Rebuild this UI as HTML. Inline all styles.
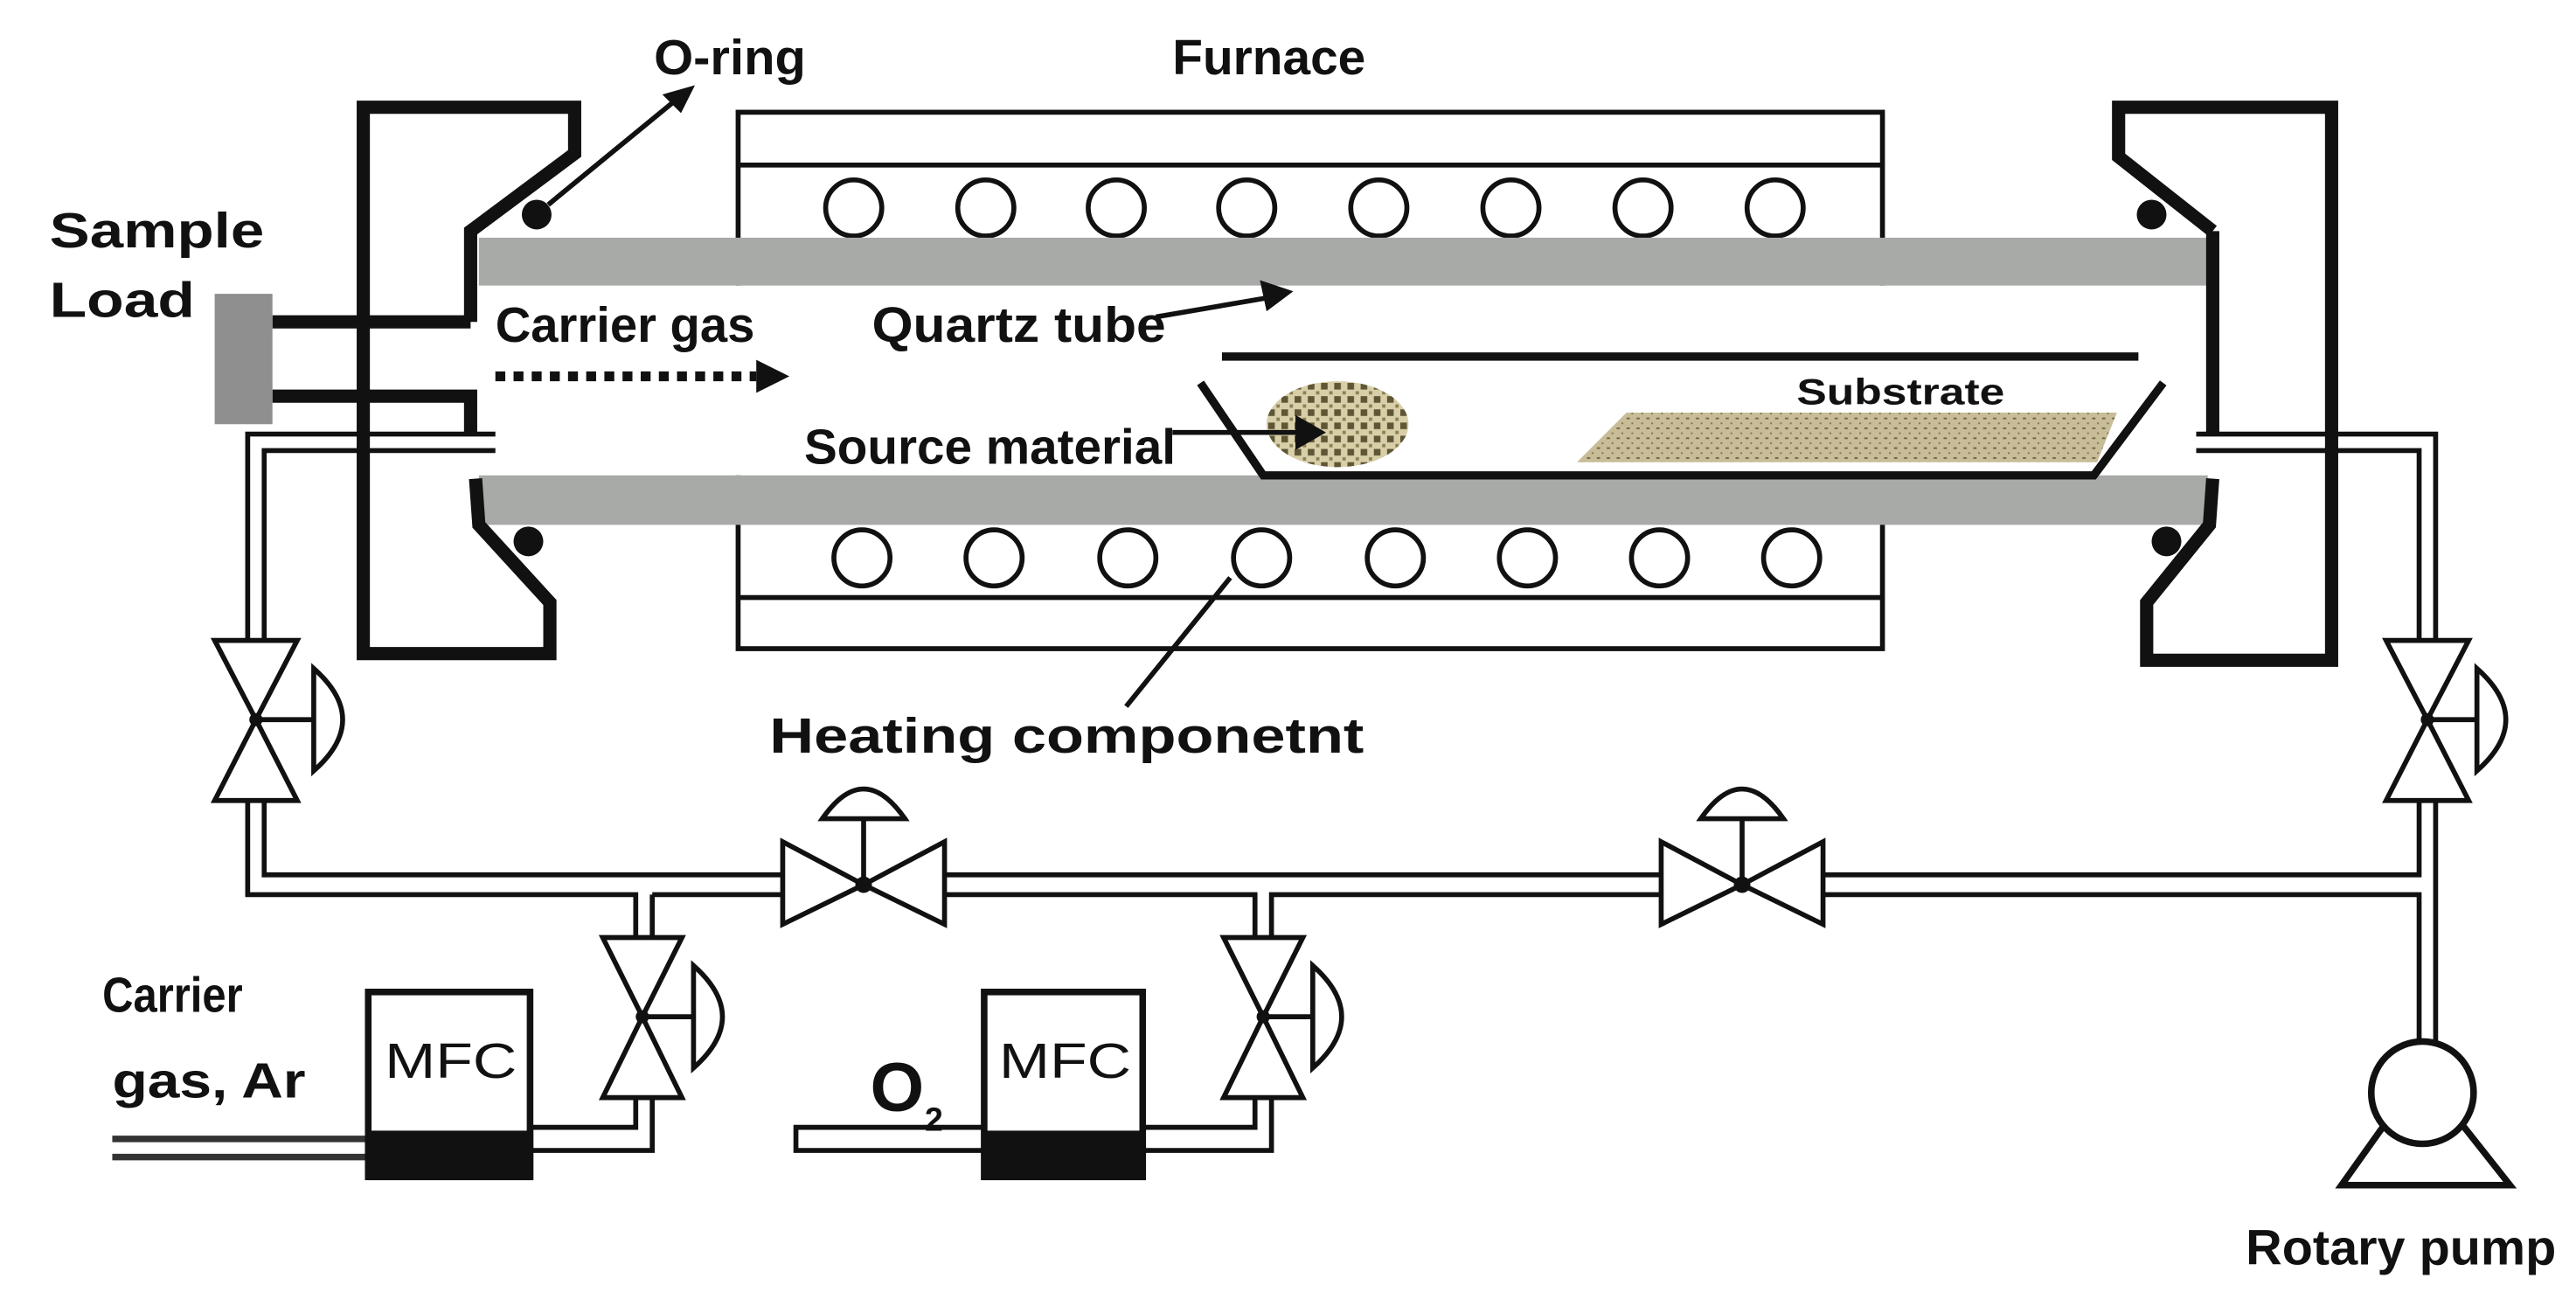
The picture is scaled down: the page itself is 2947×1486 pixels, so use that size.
<!DOCTYPE html>
<html><head><meta charset="utf-8"><style>html,body{margin:0;padding:0;background:#fff}svg{display:block}</style></head><body>
<svg width="2947" height="1486" viewBox="0 0 1560 787" preserveAspectRatio="none" xmlns="http://www.w3.org/2000/svg" font-family="Liberation Sans, sans-serif">
<rect width="1560" height="787" fill="#fff"/>
<defs>
<pattern id="sp" width="6" height="6" patternUnits="userSpaceOnUse"><rect width="6" height="6" fill="#c9bd98"/><rect x="1" y="1" width="2" height="1" fill="#6b6448"/><rect x="4" y="4" width="1" height="1" fill="#7a7050"/></pattern>
<pattern id="src" width="8" height="8" patternUnits="userSpaceOnUse"><rect width="8" height="8" fill="#d8cfa8"/><rect x="0" y="0" width="4" height="4" fill="#5e5634"/><rect x="5" y="5" width="2" height="2" fill="#8a7f56"/></pattern>
</defs>
<g stroke="#111" stroke-width="3" fill="none">
<rect x="447" y="68" width="693" height="325"/>
<line x1="447" y1="100" x2="1140" y2="100"/>
<line x1="447" y1="362" x2="1140" y2="362"/>
</g>
<g stroke="#111" stroke-width="3" fill="#fff">
<ellipse cx="517" cy="126" rx="17" ry="17"/><ellipse cx="597" cy="126" rx="17" ry="17"/><ellipse cx="676" cy="126" rx="17" ry="17"/><ellipse cx="755" cy="126" rx="17" ry="17"/><ellipse cx="835" cy="126" rx="17" ry="17"/><ellipse cx="915" cy="126" rx="17" ry="17"/><ellipse cx="995" cy="126" rx="17" ry="17"/><ellipse cx="1075" cy="126" rx="17" ry="17"/>
<ellipse cx="522" cy="338" rx="17" ry="17"/><ellipse cx="602" cy="338" rx="17" ry="17"/><ellipse cx="683" cy="338" rx="17" ry="17"/><ellipse cx="764" cy="338" rx="17" ry="17"/><ellipse cx="845" cy="338" rx="17" ry="17"/><ellipse cx="925" cy="338" rx="17" ry="17"/><ellipse cx="1005" cy="338" rx="17" ry="17"/><ellipse cx="1085" cy="338" rx="17" ry="17"/>
</g>
<rect x="290" y="173" width="1050" height="115" fill="#fff"/>
<rect x="290" y="144" width="1047" height="29" fill="#a8aaa8"/>
<rect x="290" y="288" width="1047" height="30" fill="#a8aaa8"/>
<g stroke="#111" stroke-width="8" fill="none" stroke-linejoin="miter">
<polyline points="285,195 285,140 348,93 348,65 220,65 220,396 333,396 333,365 290,318 288,290"/>
<line x1="165" y1="195" x2="285" y2="195"/>
<polyline points="165,240 285,240 285,262"/>
<polyline points="1340,140 1283,95 1283,65 1412,65 1412,400 1300,400 1300,365 1338,318 1340,290"/>
<line x1="1340" y1="140" x2="1340" y2="262"/>
</g>
<rect x="130" y="178" width="35" height="79" fill="#8e8f8e"/>
<g fill="#111"><circle cx="325" cy="130" r="9"/><circle cx="320" cy="328" r="9"/><circle cx="1303" cy="130" r="9"/><circle cx="1312" cy="328" r="9"/></g>
<g stroke="#111" stroke-width="3" fill="none">
<polyline points="300,263 150,263 150,388"/>
<polyline points="300,273 160,273 160,388"/>
<polyline points="1330,263 1475,263 1475,388"/>
<polyline points="1330,273 1465,273 1465,388"/>
<polyline points="150,485 150,542 385,542 385,568"/>
<polyline points="160,485 160,530 473,530"/>
<line x1="395" y1="542" x2="473" y2="542"/>
<line x1="395" y1="542" x2="395" y2="568"/>
<line x1="573" y1="530" x2="1005" y2="530"/>
<polyline points="573,542 760,542 760,568"/>
<polyline points="770,568 770,542 1005,542"/>
<polyline points="1105,530 1465,530 1465,485"/>
<polyline points="1105,542 1465,542 1465,632"/>
<polyline points="1475,485 1475,632"/>
<polyline points="385,665 385,683 322,683"/>
<polyline points="395,665 395,697 322,697"/>
<polyline points="760,665 760,683 693,683"/>
<polyline points="770,665 770,697 693,697"/>
<polyline points="595,683 482,683 482,697 595,697"/>
</g>
<g stroke="#333" stroke-width="4"><line x1="68" y1="690" x2="222" y2="690"/><line x1="68" y1="701" x2="222" y2="701"/></g>
<g stroke="#111" stroke-width="3" fill="#fff">
<polygon points="130,388 180,388 155,436 180,485 130,485 155,436"/>
<line x1="155" y1="436" x2="190" y2="436"/><path d="M190,405 Q225,436 190,467 Z"/>
<polygon points="1445,388 1495,388 1470,436 1495,485 1445,485 1470,436"/>
<line x1="1470" y1="436" x2="1500" y2="436"/><path d="M1500,405 Q1535,436 1500,467 Z"/>
<polygon points="365,568 413,568 389,616 413,665 365,665 389,616"/>
<line x1="389" y1="616" x2="420" y2="616"/><path d="M420,585 Q455,616 420,647 Z"/>
<polygon points="741,568 789,568 765,616 789,665 741,665 765,616"/>
<line x1="765" y1="616" x2="795" y2="616"/><path d="M795,585 Q830,616 795,647 Z"/>
<polygon points="474,510 474,560 523,536 572,510 572,560 523,536"/>
<line x1="523" y1="536" x2="523" y2="496"/><path d="M498,496 Q523,460 548,496 Z"/>
<polygon points="1006,510 1006,560 1055,536 1104,510 1104,560 1055,536"/>
<line x1="1055" y1="536" x2="1055" y2="496"/><path d="M1030,496 Q1055,460 1080,496 Z"/>
</g>
<g fill="#111"><circle cx="155" cy="436" r="4"/><circle cx="1470" cy="436" r="4"/><circle cx="389" cy="616" r="4"/><circle cx="765" cy="616" r="4"/><circle cx="523" cy="536" r="5"/><circle cx="1055" cy="536" r="5"/></g>
<g stroke="#111" stroke-width="4" fill="#fff"><rect x="223" y="601" width="98" height="112"/><rect x="596" y="601" width="96" height="112"/></g>
<rect x="223" y="685" width="100" height="30" fill="#111"/>
<rect x="595" y="685" width="99" height="30" fill="#111"/>
<g stroke="#111" stroke-width="4" fill="#fff"><polygon points="1418,718 1520,718 1490,680 1445,680"/><circle cx="1467" cy="662" r="31"/></g>
<g stroke="#111" stroke-width="5" fill="none">
<line x1="740" y1="216" x2="1295" y2="216"/>
<polyline points="727,232 765,288 1268,288 1310,232"/>
</g>
<polygon points="955,280 985,250 1282,250 1270,280" fill="url(#sp)"/>
<ellipse cx="810" cy="257" rx="43" ry="26" fill="url(#src)"/>
<g stroke="#111" stroke-width="3" fill="#111">
<line x1="332" y1="124" x2="410" y2="60"/><polygon points="418,54 404,58 412,66"/>
<line x1="700" y1="192" x2="770" y2="180"/><polygon points="780,177 765,172 768,186"/>
<line x1="710" y1="262" x2="790" y2="262"/><polygon points="800,262 786,254 786,270"/>
<line x1="682" y1="428" x2="745" y2="350"/>
</g>
<line x1="300" y1="228" x2="458" y2="228" stroke="#111" stroke-width="6" stroke-dasharray="6,5"/>
<polygon points="458,218 478,228 458,238" fill="#111"/>
<g font-weight="bold" fill="#111" font-size="30">
<text x="396" y="45" textLength="92" lengthAdjust="spacingAndGlyphs">O-ring</text>
<text x="710" y="45" textLength="117" lengthAdjust="spacingAndGlyphs">Furnace</text>
<text x="30" y="150" textLength="130" lengthAdjust="spacingAndGlyphs">Sample</text>
<text x="30" y="192" textLength="88" lengthAdjust="spacingAndGlyphs">Load</text>
<text x="300" y="207" textLength="157" lengthAdjust="spacingAndGlyphs">Carrier gas</text>
<text x="528" y="207" textLength="178" lengthAdjust="spacingAndGlyphs">Quartz  tube</text>
<text x="487" y="281" textLength="225" lengthAdjust="spacingAndGlyphs">Source material</text>
<text x="1088" y="245" font-size="22" textLength="126" lengthAdjust="spacingAndGlyphs">Substrate</text>
<text x="466" y="456" textLength="360" lengthAdjust="spacingAndGlyphs">Heating componetnt</text>
<text x="62" y="613" textLength="85" lengthAdjust="spacingAndGlyphs">Carrier</text>
<text x="68" y="665" textLength="117" lengthAdjust="spacingAndGlyphs">gas, Ar</text>
<text x="1360" y="766" textLength="188" lengthAdjust="spacingAndGlyphs">Rotary pump</text>
<text x="527" y="673" font-size="42">O</text><text x="560" y="685" font-size="20">2</text>
</g>
<g fill="#111" font-size="30">
<text x="233" y="653" textLength="80" lengthAdjust="spacingAndGlyphs">MFC</text>
<text x="605" y="653" textLength="80" lengthAdjust="spacingAndGlyphs">MFC</text>
</g>
</svg>
</body></html>
